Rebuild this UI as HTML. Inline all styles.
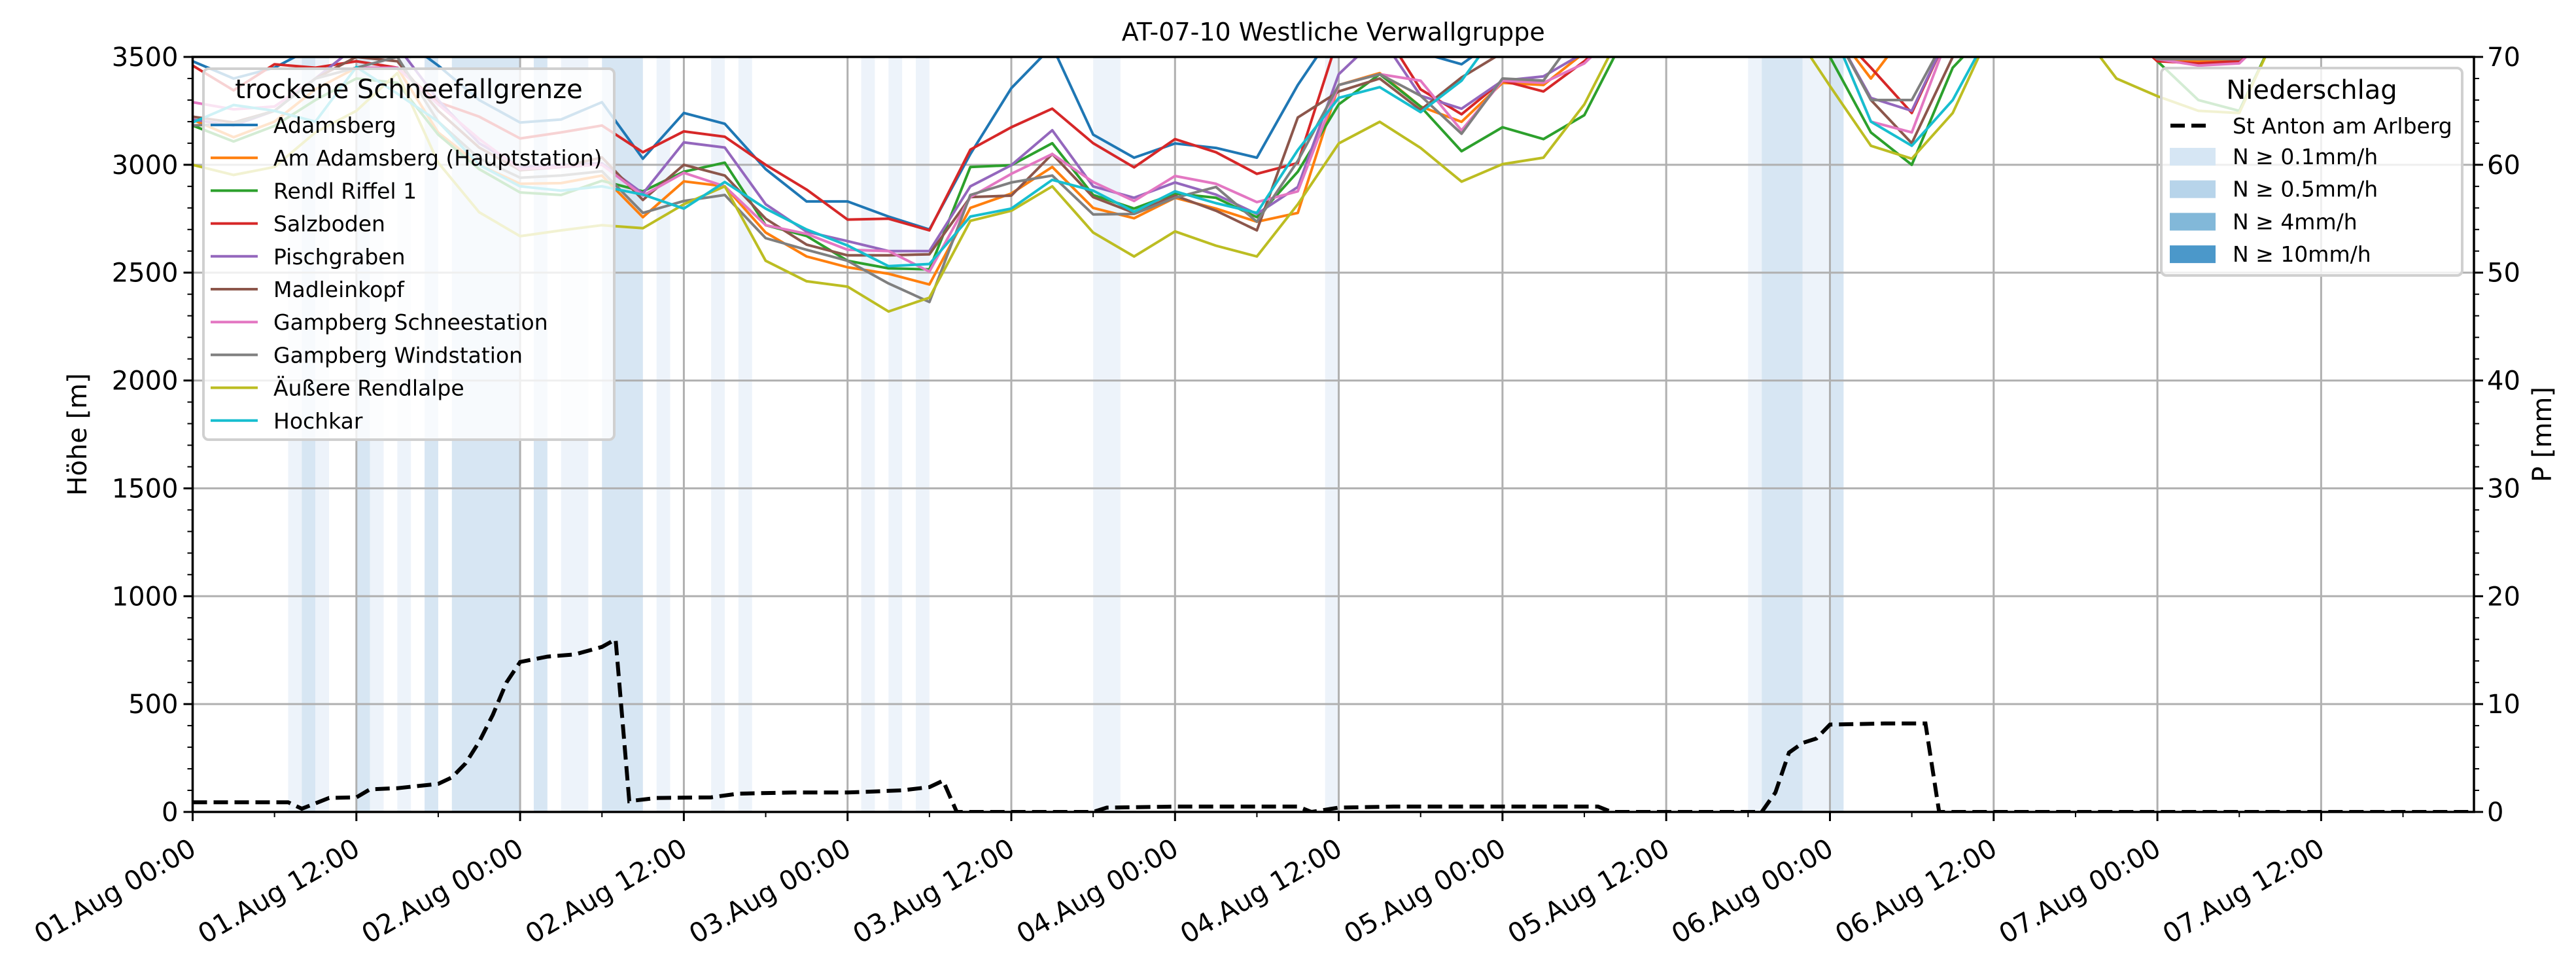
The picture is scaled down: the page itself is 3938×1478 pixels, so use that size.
<!DOCTYPE html>
<html><head><meta charset="utf-8"><title>AT-07-10 Westliche Verwallgruppe</title>
<style>
html,body{margin:0;padding:0;background:#fff;}
svg{display:block;font-family:"DejaVu Sans","Liberation Sans",sans-serif;}
</style></head>
<body>
<svg id="chart" xmlns="http://www.w3.org/2000/svg" width="3938" height="1478" viewBox="0 0 3938 1478">
<rect x="0" y="0" width="3938" height="1478" fill="#fff"/>
<defs><clipPath id="plotclip"><rect x="294.5" y="87" width="3487.5" height="1154"/></clipPath></defs>
<g id="bands" clip-path="url(#plotclip)"></g>
<g id="grid"></g>
<g id="lines" clip-path="url(#plotclip)"></g>
<g id="precip" clip-path="url(#plotclip)"></g>
<g id="axes"></g>
<g id="legends"></g>
</svg>
<script>
// ---- data ----
const HOURS = [0,3,6,9,12,15,18,21,24,27,30,33,36,39,42,45,48,51,54,57,60,63,66,69,72,75,78,81,84,87,90,93,96,99,102,105,108,111,114,117,120,123,126,129,132,135,138,141,144,147,150,153,156,159,162,165,168];
const SERIES_NAMES = ["Adamsberg","Am Adamsberg (Hauptstation)","Rendl Riffel 1","Salzboden","Pischgraben","Madleinkopf","Gampberg Schneestation","Gampberg Windstation","Äußere Rendlalpe","Hochkar"];
const ADAMSBERG = [3480,3400,3450,3550,3600,3600,3460,3300,3196,3210,3290,3028,3240,3190,2980,2830,2830,2760,2700,3050,3355,3550,3140,3033,3099,3078,3033,3370,3650,3600,3520,3466,3600,3650,3650,3650,3650,3650,3650,3650,3650,3520,3600,3650,3650,3650,3650,3650,3650,3650,3650,3650,3650,3650,3650,3650,3650];
const AM_ADAMSBERG = [3209,3128,3200,3350,3450,3450,3150,3000,2912,2915,2950,2757,2923,2900,2686,2575,2525,2495,2445,2800,2867,2990,2800,2752,2847,2797,2736,2777,3370,3425,3270,3199,3380,3370,3520,3650,3650,3650,3650,3650,3650,3400,3650,3650,3650,3650,3650,3650,3490,3480,3490,3650,3650,3650,3650,3650,3650];
const RENDL_RIFFEL = [3182,3108,3180,3300,3400,3380,3140,2980,2872,2860,2926,2877,2968,3010,2720,2670,2555,2520,2515,2990,2998,3100,2860,2797,2867,2847,2757,2968,3280,3420,3270,3063,3174,3119,3230,3600,3650,3650,3650,3650,3500,3150,3000,3450,3650,3650,3650,3650,3480,3300,3250,3650,3650,3650,3650,3650,3650];
const SALZBODEN = [3460,3345,3466,3450,3480,3450,3290,3223,3122,3150,3182,3058,3155,3130,3000,2885,2746,2750,2696,3070,3174,3260,3100,2988,3119,3058,2958,3008,3600,3650,3350,3234,3390,3340,3480,3650,3650,3650,3650,3650,3650,3450,3240,3650,3650,3650,3650,3650,3480,3470,3480,3650,3650,3650,3650,3650,3650];
const PISCHGRABEN = [3209,3182,3250,3400,3550,3550,3300,3100,2990,3000,3007,2867,3104,3080,2817,2690,2646,2600,2600,2900,2998,3160,2900,2847,2918,2862,2772,2897,3420,3600,3320,3260,3390,3410,3520,3650,3650,3650,3650,3650,3650,3310,3250,3650,3650,3650,3650,3650,3500,3490,3500,3650,3650,3650,3650,3650,3650];
const MADLEINKOPF = [3223,3196,3250,3400,3500,3480,3250,3080,2975,2990,3034,2837,3000,2950,2750,2630,2580,2580,2585,2850,2857,3050,2850,2777,2857,2787,2696,3219,3340,3400,3254,3405,3520,3650,3650,3650,3650,3650,3650,3650,3650,3300,3100,3500,3650,3650,3650,3650,3650,3650,3650,3650,3650,3650,3650,3650,3650];
const GAMPBERG_SCHNEE = [3290,3257,3270,3400,3450,3450,3280,3120,2980,2990,3000,2857,2963,2900,2720,2680,2606,2600,2505,2850,2958,3050,2920,2832,2948,2912,2827,2877,3370,3420,3390,3159,3390,3380,3470,3650,3650,3650,3650,3650,3650,3200,3150,3650,3650,3650,3650,3650,3490,3460,3470,3650,3650,3650,3650,3650,3650];
const GAMPBERG_WIND = [3182,3190,3250,3400,3450,3500,3200,3030,2940,2950,2970,2777,2832,2860,2660,2606,2555,2450,2364,2860,2918,2950,2770,2772,2847,2897,2736,3018,3370,3420,3320,3144,3400,3390,3650,3650,3650,3650,3650,3650,3650,3300,3300,3650,3650,3650,3650,3650,3490,3490,3490,3650,3650,3650,3650,3650,3650];
const AEUSSERE_RENDLALPE = [3000,2953,2990,3150,3250,3425,3010,2780,2669,2696,2720,2706,2817,2900,2555,2460,2435,2320,2384,2740,2787,2900,2686,2575,2691,2625,2575,2817,3099,3199,3078,2922,3003,3033,3280,3650,3650,3650,3650,3650,3365,3088,3028,3240,3650,3650,3650,3400,3318,3250,3240,3650,3650,3650,3650,3650,3650];
const HOCHKAR = [3196,3277,3250,3200,3453,3330,3200,3000,2900,2880,2900,2862,2797,2920,2797,2700,2626,2530,2540,2760,2797,2930,2880,2782,2877,2822,2777,3068,3310,3360,3244,3390,3650,3650,3650,3650,3650,3650,3650,3650,3650,3200,3088,3300,3650,3650,3650,3650,3650,3650,3650,3650,3650,3650,3650,3650,3650];
const PRECIP_HOURS = [0,3,6,7,8,10,12,13,15,18,19,20,21,22,23,24,26,28,30,31,32,34,38,40,44,48,52,54,55,56,60,64,66,67,72,76,80,81,82,84,88,92,96,100,103,104,108,112,115,116,117,118,119,120,124,126,127,128,132,144,156,167];
const PRECIP_MM = [0.9,0.9,0.9,0.9,0.3,1.3,1.35,2.1,2.2,2.6,3.2,4.5,6.5,9.0,12.0,13.9,14.4,14.6,15.3,16.0,1.0,1.3,1.35,1.7,1.8,1.8,2.0,2.3,2.9,0,0,0,0,0.4,0.5,0.5,0.5,0.5,0,0.4,0.5,0.5,0.5,0.5,0.5,0,0,0,0,1.8,5.5,6.4,6.8,8.1,8.2,8.2,8.2,0,0,0,0,0];
const BAND_START = [7,8,9,12,13,15,17,19,25,27,30,34,38,40,49,51,53,66,83,114,115,118,120];
const BAND_END   = [8,9,10,13,14,16,18,24,26,29,33,35,39,41,50,52,54,68,84,115,118,120,121];
const BAND_LEVEL = [1,2,1,2,1,1,2,2,2,1,2,1,1,1,1,1,1,1,1,1,2,1,2];
const Y_TICKS = [0,500,1000,1500,2000,2500,3000,3500];
const P_TICKS = [0,10,20,30,40,50,60,70];
const X_TICK_LABELS = ["01.Aug 00:00","01.Aug 12:00","02.Aug 00:00","02.Aug 12:00","03.Aug 00:00","03.Aug 12:00","04.Aug 00:00","04.Aug 12:00","05.Aug 00:00","05.Aug 12:00","06.Aug 00:00","06.Aug 12:00","07.Aug 00:00","07.Aug 12:00"];
const PRECIP_LEGEND = ["N ≥ 0.1mm/h","N ≥ 0.5mm/h","N ≥ 4mm/h","N ≥ 10mm/h"];

// ---- layout/style ----
const L=294.5, R=3782, T=87, B=1241, HMAX=167.2;
const COLORS=["#1f77b4","#ff7f0e","#2ca02c","#d62728","#9467bd","#8c564b","#e377c2","#7f7f7f","#bcbd22","#17becf"];
const SERIES=[ADAMSBERG,AM_ADAMSBERG,RENDL_RIFFEL,SALZBODEN,PISCHGRABEN,MADLEINKOPF,GAMPBERG_SCHNEE,GAMPBERG_WIND,AEUSSERE_RENDLALPE,HOCHKAR];
const BAND_COLORS={1:"#edf3fa",2:"#d7e6f3"};
const SWATCH=["#d6e6f4","#b7d4ea","#82b8d9","#4b98ca"];
const X=h=>L+h*(R-L)/HMAX;
const Y=v=>B-v/3500*(B-T);
const YP=mm=>B-mm/70*(B-T);
const NS="http://www.w3.org/2000/svg";
function mk(tag,attrs,parent){const e=document.createElementNS(NS,tag);for(const k in attrs)e.setAttribute(k,attrs[k]);parent.appendChild(e);return e;}
const gB=document.getElementById('bands'),gG=document.getElementById('grid'),gL=document.getElementById('lines'),gP=document.getElementById('precip'),gA=document.getElementById('axes'),gLe=document.getElementById('legends');

for(let i=0;i<BAND_START.length;i++){
  const r=mk('rect',{x:X(BAND_START[i]),y:T,width:X(BAND_END[i])-X(BAND_START[i]),height:B-T,fill:BAND_COLORS[BAND_LEVEL[i]]},gB);
  
  
}
for(let i=0;i<X_TICK_LABELS.length;i++){
  const g=mk('line',{x1:X(i*12),x2:X(i*12),y1:T,y2:B,stroke:"#b0b0b0","stroke-width":3},gG);
  
  
}
for(const v of Y_TICKS){
  const g=mk('line',{x1:L,x2:R,y1:Y(v),y2:Y(v),stroke:"#b0b0b0","stroke-width":3},gG);
  
  
}
for(let s=0;s<SERIES.length;s++){
  const pts=HOURS.map((h,i)=>X(h).toFixed(1)+","+Y(SERIES[s][i]).toFixed(1)).join(" ");
  const p=mk('polyline',{points:pts,fill:"none",stroke:COLORS[s],"stroke-width":4,"stroke-linejoin":"round"},gL);
  
  
}
{
  const pts=PRECIP_HOURS.map((h,i)=>X(h).toFixed(1)+","+YP(PRECIP_MM[i]).toFixed(1)).join(" ");
  const p=mk('polyline',{points:pts,fill:"none",stroke:"#000","stroke-width":6,"stroke-dasharray":"22,10"},gP);
  
  
}
const sp=mk('rect',{x:L,y:T,width:R-L,height:B-T,fill:"none",stroke:"#000","stroke-width":3.5},gA);


for(let v=0;v<=3500;v+=100){
  const major=v%500===0, len=major?14:8, w=major?3:2;
  const t1=mk('line',{x1:L-len,x2:L,y1:Y(v),y2:Y(v),stroke:"#000","stroke-width":w},gA);
  
  
  const t2=mk('line',{x1:R,x2:R+len,y1:Y(v),y2:Y(v),stroke:"#000","stroke-width":w},gA);
  
  
}
for(const v of Y_TICKS){
  const t=mk('text',{x:L-22,y:Y(v)+14,"text-anchor":"end","font-size":40},gA);t.textContent=v;
  
  
}
for(const v of P_TICKS){
  const t=mk('text',{x:R+20,y:YP(v)+14,"text-anchor":"start","font-size":40},gA);t.textContent=v;
  
  
}
for(let h=0;h<=HMAX;h+=6){
  const major=h%12===0;
  const t=mk('line',{x1:X(h),x2:X(h),y1:B,y2:B+(major?14:8),stroke:"#000","stroke-width":major?3:2},gA);
  
  
}
for(let i=0;i<X_TICK_LABELS.length;i++){
  const x=X(i*12)+8, y=1305;
  const t=mk('text',{x:x,y:y,"text-anchor":"end","font-size":41,transform:`rotate(-30 ${x} ${y})`},gA);
  t.textContent=X_TICK_LABELS[i];
  
  
}
{
  const t=mk('text',{x:(L+R)/2,y:62,"text-anchor":"middle","font-size":38},gA);t.textContent="AT-07-10 Westliche Verwallgruppe";
  
  
  const yl=mk('text',{x:132,y:(T+B)/2,"text-anchor":"middle","font-size":40,transform:`rotate(-90 132 ${(T+B)/2})`},gA);yl.textContent="Höhe [m]";
  
  
  const yr=mk('text',{x:3900,y:(T+B)/2,"text-anchor":"middle","font-size":40,transform:`rotate(-90 3900 ${(T+B)/2})`},gA);yr.textContent="P [mm]";
  
  
}
{
  const box=mk('rect',{x:311,y:105,width:628,height:567,rx:8,fill:"#fff","fill-opacity":0.8,stroke:"#d0d0d0","stroke-width":4},gLe);
  
  
  const tt=mk('text',{x:625,y:150,"text-anchor":"middle","font-size":40},gLe);tt.textContent="trockene Schneefallgrenze";
  
  
  for(let s=0;s<SERIES_NAMES.length;s++){
    const y=191+s*50.2;
    const ln=mk('line',{x1:322,x2:394,y1:y,y2:y,stroke:COLORS[s],"stroke-width":4},gLe);
    
    
    const tx=mk('text',{x:418,y:y+12,"font-size":33},gLe);tx.textContent=SERIES_NAMES[s];
    
    
  }
}
{
  const box=mk('rect',{x:3304,y:104,width:460,height:317,rx:8,fill:"#fff","fill-opacity":0.8,stroke:"#d0d0d0","stroke-width":4},gLe);
  
  
  const tt=mk('text',{x:3534,y:151,"text-anchor":"middle","font-size":40},gLe);tt.textContent="Niederschlag";
  
  
  const ln=mk('line',{x1:3318,x2:3378,y1:192,y2:192,stroke:"#000","stroke-width":6,"stroke-dasharray":"22,10"},gLe);
  
  
  const tx=mk('text',{x:3413,y:204,"font-size":33},gLe);tx.textContent="St Anton am Arlberg";
  
  
  for(let i=0;i<PRECIP_LEGEND.length;i++){
    const y=239+i*49.7;
    const r=mk('rect',{x:3317,y:y-13,width:70,height:27,fill:SWATCH[i]},gLe);
    
    
    const t=mk('text',{x:3413,y:y+12,"font-size":33},gLe);t.textContent=PRECIP_LEGEND[i];
    
    
  }
}
</script>
</body></html>
